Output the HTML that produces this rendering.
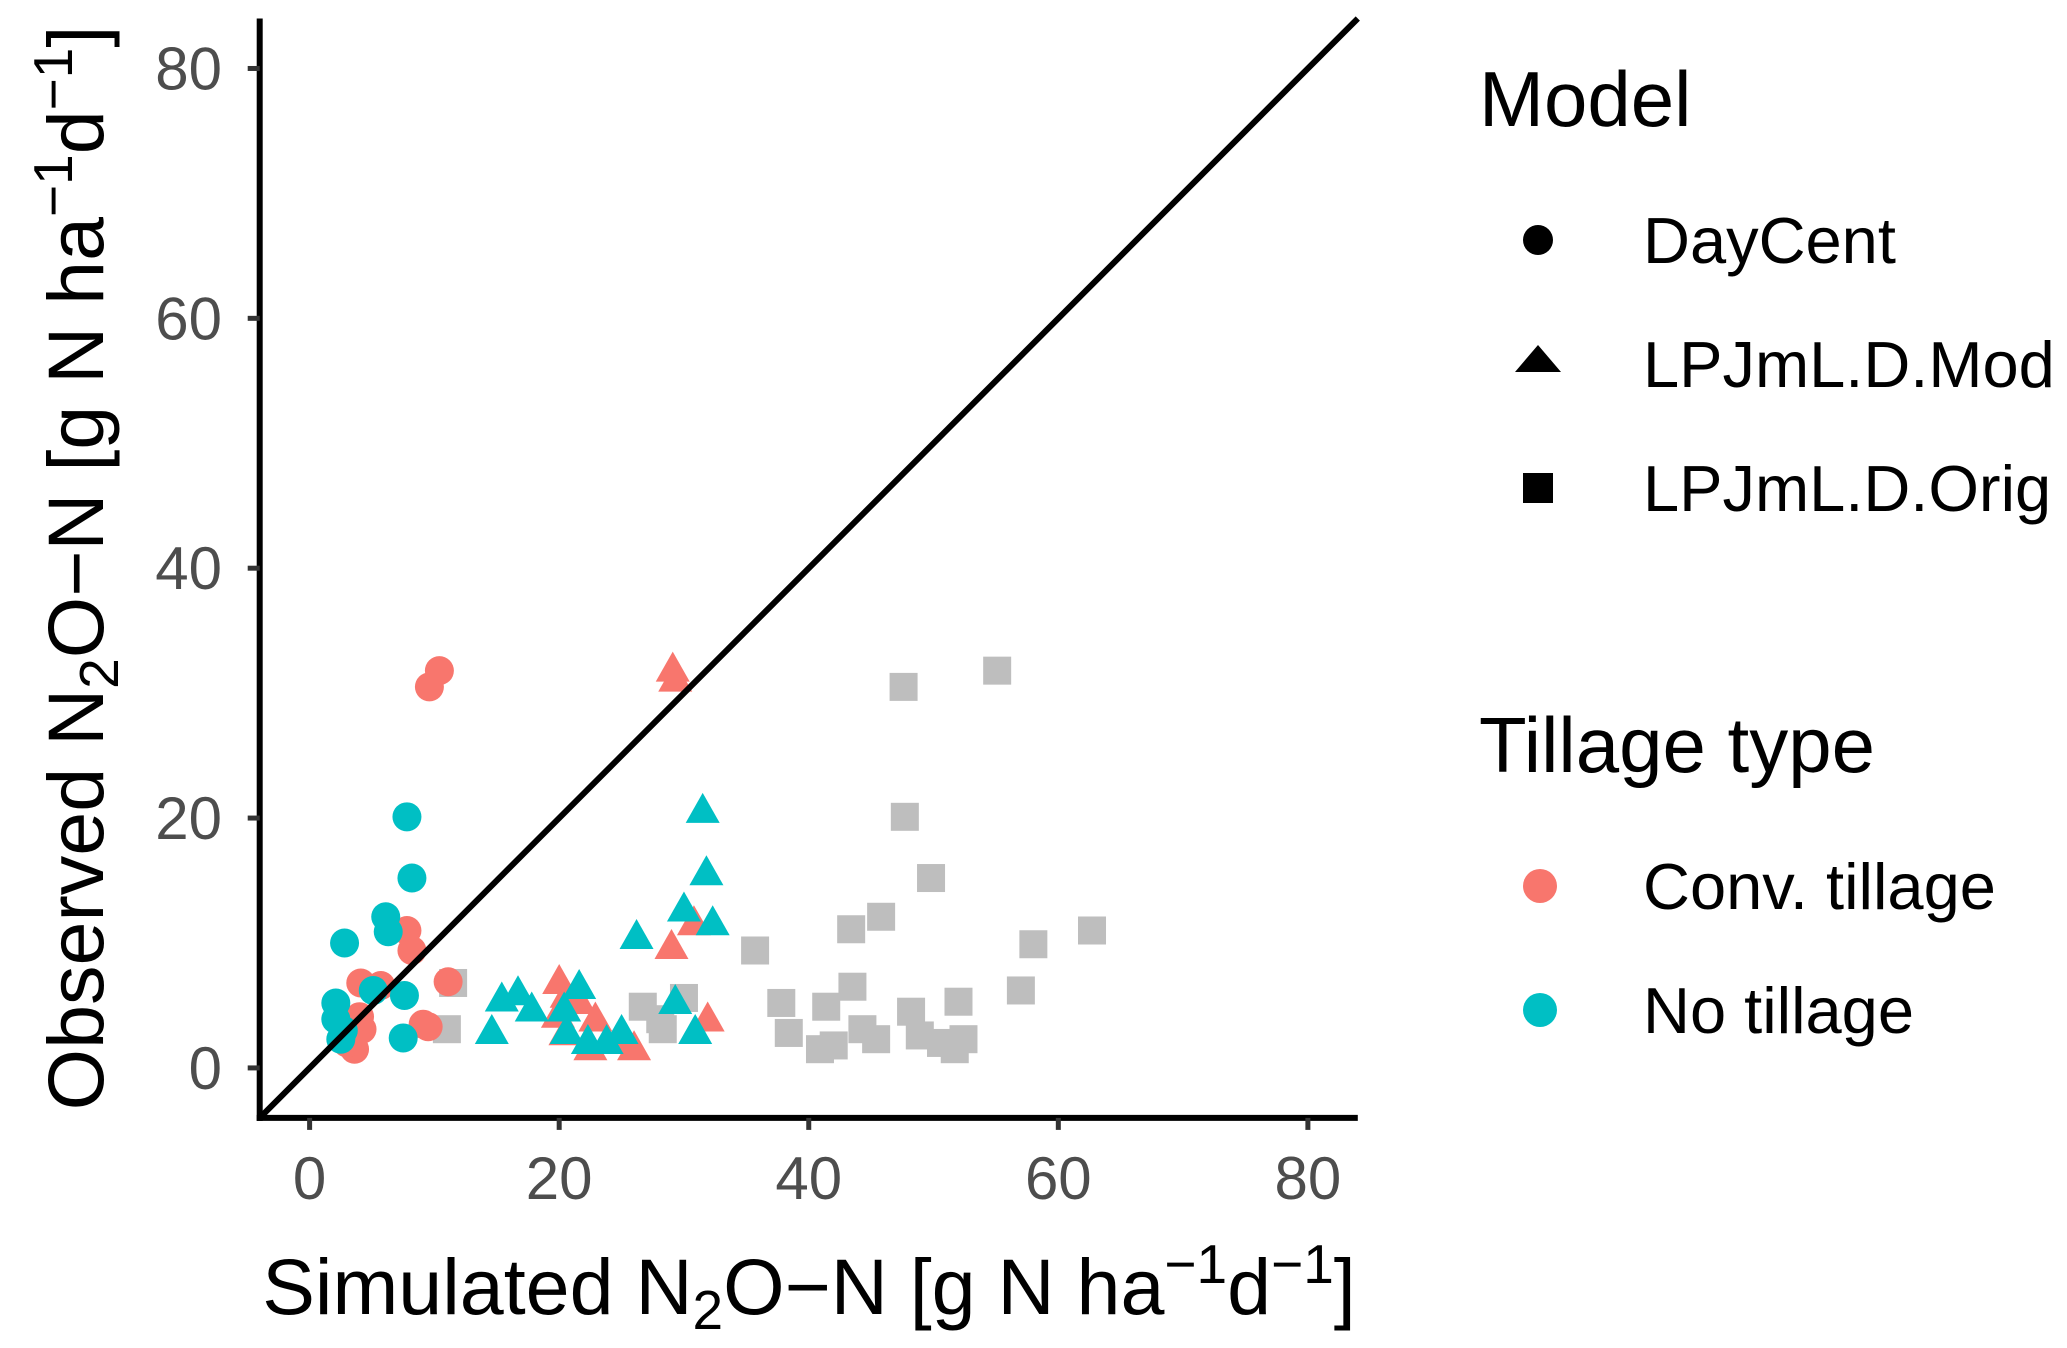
<!DOCTYPE html>
<html><head><meta charset="utf-8"><style>
html,body{margin:0;padding:0;background:#fff;}
svg{display:block;font-family:"Liberation Sans",Arial,sans-serif;}
</style></head><body>
<svg id="chart" width="2067" height="1348" viewBox="0 0 2067 1348" xmlns="http://www.w3.org/2000/svg">
<g id="marks"></g>
<g id="axes"></g>
<text x="809" y="1314" font-size="79" text-anchor="middle" fill="#000">Simulated N<tspan font-size="55" dy="15">2</tspan><tspan dy="-15">O−N [g N ha</tspan><tspan font-size="55" dy="-31">−1</tspan><tspan dy="31">d</tspan><tspan font-size="55" dy="-31">−1</tspan><tspan dy="31">]</tspan></text>
<text transform="translate(103,568) rotate(-90)" font-size="79" text-anchor="middle" fill="#000">Observed N<tspan font-size="55" dy="15">2</tspan><tspan dy="-15">O−N [g N ha</tspan><tspan font-size="55" dy="-31">−1</tspan><tspan dy="31">d</tspan><tspan font-size="55" dy="-31">−1</tspan><tspan dy="31">]</tspan></text>
<g>
<text x="1479" y="126" font-size="78">Model</text>
<circle cx="1538" cy="240" r="15" fill="#000"/>
<text x="1643" y="263" font-size="65">DayCent</text>
<polygon points="1538,345 1561,372 1515,372" fill="#000"/>
<text x="1643" y="387" font-size="65">LPJmL.D.Mod</text>
<rect x="1523" y="473" width="30" height="30" fill="#000"/>
<text x="1643" y="511" font-size="65">LPJmL.D.Orig</text>
</g>
<g>
<text x="1479" y="772" font-size="78">Tillage type</text>
<circle cx="1540" cy="886" r="17" fill="#F8766D"/>
<text x="1643" y="909" font-size="65">Conv. tillage</text>
<circle cx="1540" cy="1010" r="17" fill="#00BFC4"/>
<text x="1643" y="1033" font-size="65">No tillage</text>
</g>
</svg>
<script>
const ticks = [0, 20, 40, 60, 80];
const tickLabels = ["0", "20", "40", "60", "80"];
const domain = [-4, 84];
const dcConvX = [10.4, 9.6, 7.8, 8.2, 4.1, 5.7, 11.1, 9.1, 9.5, 4.2, 3.6, 3.0, 4.0];
const dcConvY = [31.8, 30.5, 11.0, 9.4, 6.8, 6.6, 6.9, 3.5, 3.3, 3.1, 1.5, 2.0, 4.1];
const dcNoX = [7.8, 8.2, 6.1, 6.3, 2.8, 7.6, 5.1, 2.1, 2.1, 2.5, 7.5, 2.7];
const dcNoY = [20.1, 15.2, 12.1, 10.9, 10.0, 5.8, 6.2, 5.2, 3.9, 2.3, 2.4, 3.0];
const modConvX = [29.1, 29.3, 29.0, 30.8, 31.9, 20.0, 20.6, 19.9, 20.5, 22.9, 22.5, 25.0, 26.0, 21.6];
const modConvY = [31.8, 31.0, 9.6, 11.5, 3.8, 6.8, 5.7, 4.1, 2.7, 3.8, 1.5, 2.0, 1.5, 5.2];
const modNoX = [31.5, 31.8, 30.0, 32.3, 26.2, 29.3, 30.9, 14.6, 15.4, 16.7, 17.8, 20.4, 21.6, 20.6, 22.3, 25.0, 23.8];
const modNoY = [20.5, 15.5, 12.6, 11.5, 10.4, 5.2, 2.8, 2.8, 5.4, 5.9, 4.6, 4.6, 6.4, 2.8, 2.0, 2.8, 2.0];
const origX = [55.1, 47.6, 47.7, 49.8, 45.8, 43.4, 62.7, 58.0, 35.7, 57.0, 43.5, 52.0, 37.8, 41.4, 48.2, 30.0, 26.7, 28.1, 38.4, 44.3, 45.4, 48.9, 50.6, 52.4, 40.9, 42.0, 51.7, 11.5, 11.0, 28.3];
const origY = [31.8, 30.5, 20.1, 15.2, 12.1, 11.1, 11.0, 9.9, 9.4, 6.2, 6.5, 5.3, 5.2, 4.9, 4.5, 5.6, 4.9, 3.9, 2.8, 3.1, 2.3, 2.6, 2.0, 2.3, 1.5, 1.8, 1.5, 6.8, 3.1, 3.1];

const L = 259.7, R = 1357.8, T = 18.5, B = 1117.9;
function sx(v){ return L + (v - domain[0]) / (domain[1] - domain[0]) * (R - L); }
function sy(v){ return B - (v - domain[0]) / (domain[1] - domain[0]) * (B - T); }
const NS = "http://www.w3.org/2000/svg";
const marks = document.getElementById('marks');
const axes = document.getElementById('axes');
function mk(tag, attrs, parent){
  const e = document.createElementNS(NS, tag);
  for (const k in attrs) e.setAttribute(k, attrs[k]);
  parent.appendChild(e);
  return e;
}
const RED = "#F8766D", CYAN = "#00BFC4", GRAY = "#BEBEBE";
origX.forEach((v, i) => {
  const e = mk('rect', {x: sx(v) - 14, y: sy(origY[i]) - 14, width: 28, height: 28, fill: GRAY}, marks);
  
  
});
function tri(xs, ys, col, name){
  xs.forEach((v, i) => {
    const cx = sx(v), cy = sy(ys[i]);
    const e = mk('polygon', {points: `${cx},${cy-19} ${cx+17},${cy+11} ${cx-17},${cy+11}`, fill: col}, marks);
    
    
  });
}
tri(modConvX, modConvY, RED, 'lpjml-mod-conv-point');
tri(modNoX, modNoY, CYAN, 'lpjml-mod-notill-point');
function circ(xs, ys, col, name){
  xs.forEach((v, i) => {
    const e = mk('circle', {cx: sx(v), cy: sy(ys[i]), r: 14.5, fill: col}, marks);
    
    
  });
}
circ(dcConvX, dcConvY, RED, 'daycent-conv-point');
circ(dcNoX, dcNoY, CYAN, 'daycent-notill-point');
const d = mk('line', {x1: sx(domain[0]), y1: sy(domain[0]), x2: sx(domain[1]), y2: sy(domain[1]), stroke: '#000', 'stroke-width': 6}, marks);


const xa = mk('line', {x1: L - 3, y1: B, x2: R, y2: B, stroke: '#000', 'stroke-width': 6}, axes);


const ya = mk('line', {x1: L, y1: T, x2: L, y2: B + 3, stroke: '#000', 'stroke-width': 6}, axes);


ticks.forEach((t, i) => {
  const xt = mk('line', {x1: sx(t), y1: B, x2: sx(t), y2: B + 12, stroke: '#333', 'stroke-width': 5}, axes);
  
  
  const xl = mk('text', {x: sx(t), y: 1199, 'font-size': 60, 'text-anchor': 'middle', fill: '#4D4D4D'}, axes);
  xl.textContent = tickLabels[i];
  
  
  const yt = mk('line', {x1: L - 12, y1: sy(t), x2: L, y2: sy(t), stroke: '#333', 'stroke-width': 5}, axes);
  
  
  const yl = mk('text', {x: 222, y: sy(t) + 21, 'font-size': 60, 'text-anchor': 'end', fill: '#4D4D4D'}, axes);
  yl.textContent = tickLabels[i];
  
  
});
</script>
</body></html>
